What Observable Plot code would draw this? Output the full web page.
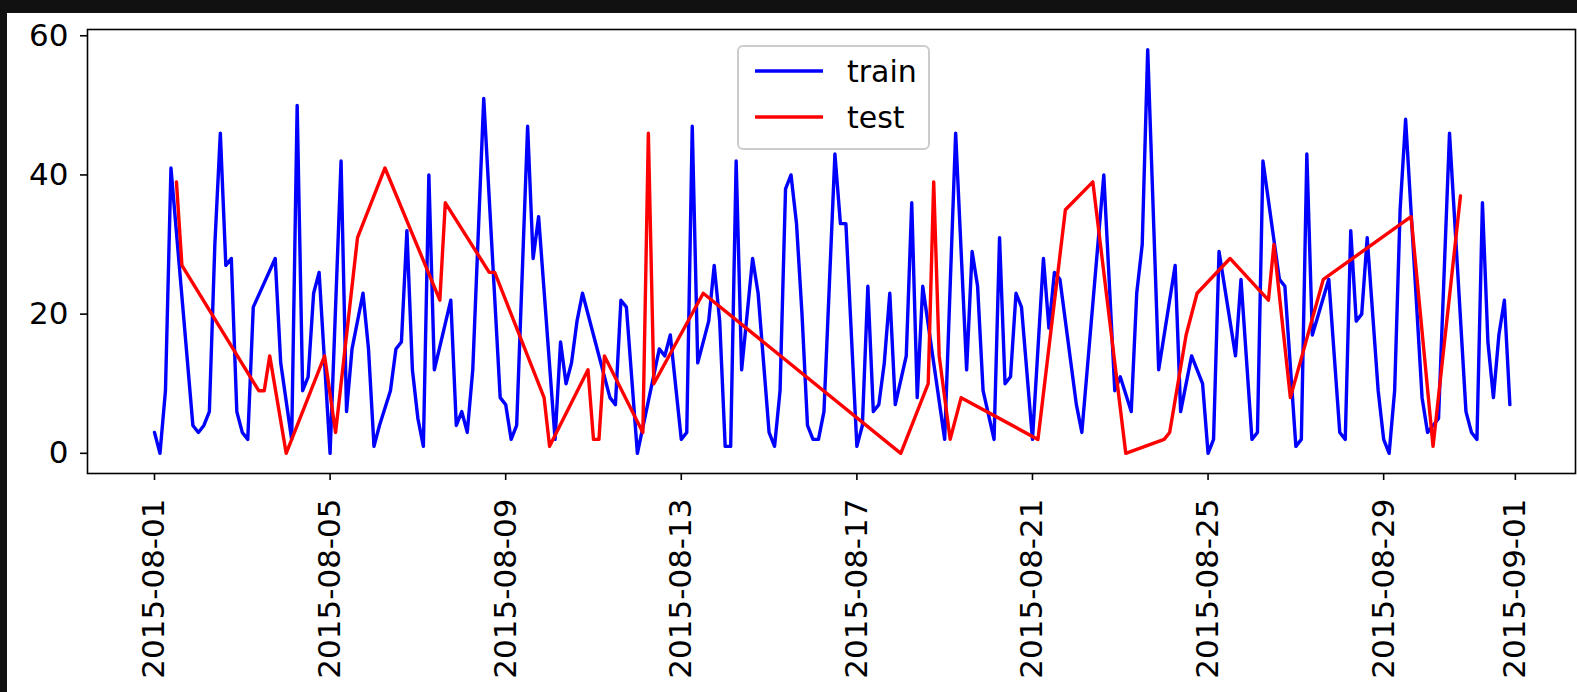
<!DOCTYPE html>
<html>
<head>
<meta charset="utf-8">
<script src="https://cdn.jsdelivr.net/npm/d3@7"></script>
<script src="https://cdn.jsdelivr.net/npm/@observablehq/plot@0.6"></script>
<style>
  html, body { margin: 0; padding: 0; background: #111111; width: 1577px; height: 692px; overflow: hidden; }
  #wrap { position: absolute; left: 7px; top: 13px; width: 1570px; height: 679px; background: #ffffff; }
  #legend { position: absolute; left: 730px; top: 32px; }
</style>
</head>
<body>
<div id="wrap">
  <div id="chart"></div>
  <svg id="legend" width="194" height="106" font-family="DejaVu Sans, sans-serif" font-size="30">
    <rect x="1" y="1" width="191" height="103" rx="5" ry="5" fill="rgba(255,255,255,0.8)" stroke="#cccccc" stroke-width="2"></rect>
    <line x1="18" x2="86" y1="26" y2="26" stroke="#0000ff" stroke-width="3.4"></line>
    <text x="110" y="26" dy="0.35em" fill="#000">train</text>
    <line x1="18" x2="86" y1="72" y2="72" stroke="#ff0000" stroke-width="3.4"></line>
    <text x="110" y="72" dy="0.35em" fill="#000">test</text>
  </svg>
</div>
<script>
// ---- data (hour offsets from the series start, and values) ----
const seriesStart = "2015-08-01T00:00:00Z";

const trainHours = [0,3,6,9,21,24,27,30,33,36,39,42,45,48,51,54,66,69,75,78,81,84,87,90,96,102,105,108,114,117,120,123,129,132,135,138,141,144,147,150,153,162,165,168,171,174,180,189,192,195,198,204,207,210,219,222,225,228,231,234,249,252,255,258,264,276,279,282,288,291,294,297,303,306,309,312,315,318,321,327,330,336,339,342,345,348,351,354,357,360,363,366,372,375,378,384,387,390,393,396,399,402,405,411,414,417,420,432,438,444,447,450,453,459,462,465,468,471,474,480,486,489,492,495,504,507,519,525,528,534,537,540,543,549,558,561,567,573,576,579,582,591,594,600,603,606,615,618,624,627,630,633,642,648,651,654,657,660,663,669,672,675,678,681,684,693,696,702,708,717,720,723,726,729,732,735,738,741];
const trainValues = [3,0,9,41,4,3,4,6,30,46,27,28,6,3,2,21,28,13,2,50,9,11,23,26,0,42,6,15,23,15,1,4,9,15,16,32,12,5,1,40,12,22,4,6,3,12,51,8,7,2,4,47,28,34,2,16,10,13,19,23,8,7,22,21,0,15,14,17,2,3,47,13,19,27,19,1,1,42,12,28,23,3,1,9,38,40,33,20,4,2,2,6,43,33,33,1,4,24,6,7,13,23,7,14,36,8,24,2,46,12,29,24,9,2,31,10,11,23,21,2,28,18,26,25,7,3,40,9,11,6,23,30,58,12,27,6,14,10,0,2,29,14,25,2,3,42,25,24,1,2,43,17,25,3,2,32,19,20,31,9,2,0,9,35,48,8,3,5,46,6,3,2,36,16,8,17,22,7];

const testHours = [12,15,57,60,63,72,93,99,111,126,156,159,183,186,213,216,237,240,243,246,267,270,273,300,408,423,426,429,435,441,483,498,513,531,552,555,564,570,588,609,612,621,639,687,699,714];
const testValues = [39,27,9,9,14,0,14,3,31,41,22,36,26,26,8,1,12,2,2,14,3,46,10,23,0,10,39,14,2,8,2,35,39,0,2,3,17,23,28,22,30,8,25,34,1,37];

const xTickLabels = ["2015-08-01","2015-08-05","2015-08-09","2015-08-13","2015-08-17","2015-08-21","2015-08-25","2015-08-29","2015-09-01"];
const yTicks = [0, 20, 40, 60];
const seriesNames = ["train", "test"];
const seriesColors = ["#0000ff", "#ff0000"];

// ---- build ----
const t0 = new Date(seriesStart).getTime();
const H = 3600e3;
const train = trainHours.map((h, i) => ({date: new Date(t0 + h * H), value: trainValues[i]}));
const test = testHours.map((h, i) => ({date: new Date(t0 + h * H), value: testValues[i]}));
const xTicks = xTickLabels.map(s => new Date(s + "T00:00:00Z"));

const day = 24 * H;
const xDomain = [new Date(t0 - 1.526 * day), new Date(t0 + 32.37 * day)];

const chart = Plot.plot({
  width: 1570,
  height: 679,
  marginLeft: 80,
  marginTop: 16,
  marginRight: 2,
  marginBottom: 219,
  style: {fontFamily: "DejaVu Sans, sans-serif", fontSize: "31px", color: "#000", background: "#fff", overflow: "visible"},
  x: {type: "utc", domain: xDomain},
  y: {domain: [-2.9, 60.9]},
  marks: [
    Plot.line(train, {x: "date", y: "value", stroke: seriesColors[0], strokeWidth: 3.4, strokeLinejoin: "round"}),
    Plot.line(test, {x: "date", y: "value", stroke: seriesColors[1], strokeWidth: 3.4, strokeLinejoin: "round"}),
    Plot.axisY({ticks: yTicks, tickSize: 7, tickPadding: 12, strokeWidth: 1.6, label: null}),
    Plot.axisX({ticks: xTicks, tickFormat: d3.utcFormat("%Y-%m-%d"), tickRotate: -90, tickSize: 7, tickPadding: 18, strokeWidth: 1.6, label: null}),
    Plot.frame({stroke: "#000", strokeWidth: 1.6})
  ]
});
document.getElementById("chart").appendChild(chart);
</script>
</body>
</html>
